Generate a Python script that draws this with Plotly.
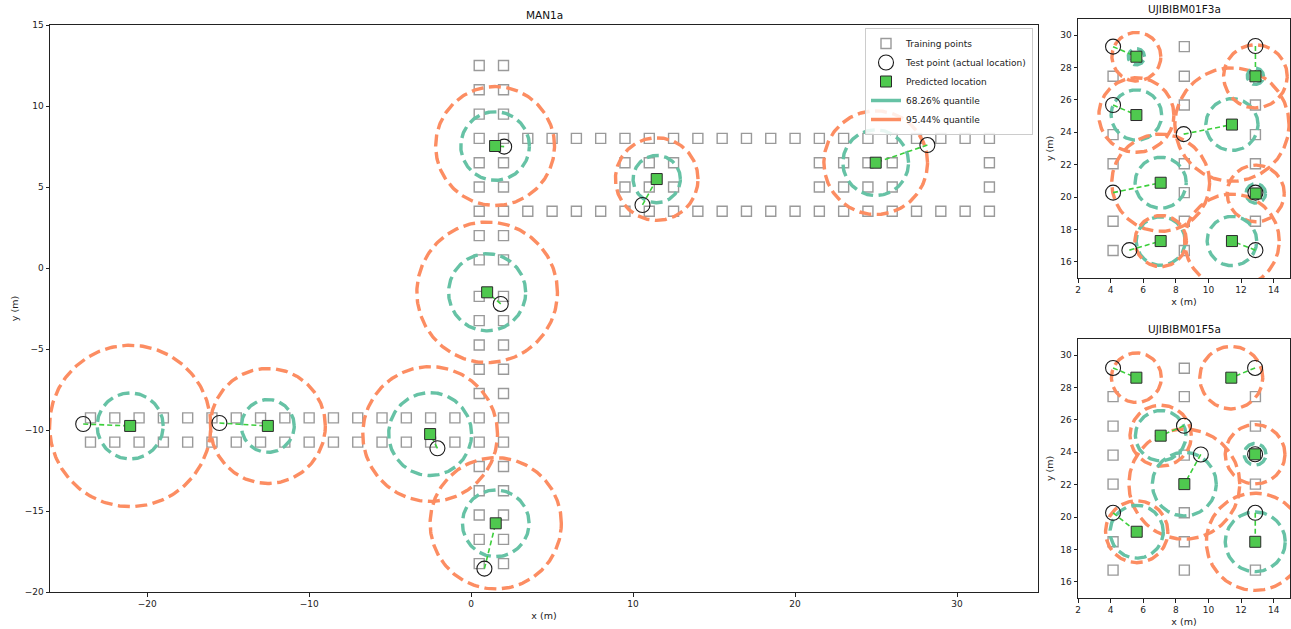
import numpy as np
import plotly.graph_objects as go

# ---------------- data ----------------
# MAN1a training grid
man_corr_x = [0.5, 2.0]
man_corr_y = [12.5, 11.0, 9.5, 8.0, 6.5, 5.0, 3.5, 2.0, 0.5, -1.75, -3.25, -4.75,
              -6.25, -7.75, -9.25, -10.75, -12.25, -13.75, -15.25, -16.75, -18.25]
man_left_x = [-23.5, -22.0, -20.5, -19.0, -17.5, -16.0, -14.5, -13.0, -11.5, -10.0,
              -8.5, -7.0, -5.5, -4.0, -2.5, -1.0]
man_left_y = [-9.25, -10.75]
man_top_x = [3.5, 5.0, 6.5, 8.0, 9.5, 11.0, 12.5, 14.0, 15.5, 17.0, 18.5, 20.0,
             21.5, 23.0, 24.5, 26.0, 27.5, 29.0, 30.5, 32.0]
man_top_y = [8.0, 3.5]
man_mid_x = [9.5, 11.0, 12.5, 21.5, 23.0, 24.5, 26.0, 32.0]
man_mid_y = [6.5, 5.0]

man_test_x = [-23.95, -15.54, -2.08, 0.82, 1.83, 2.04, 10.58, 28.17]
man_test_y = [-9.63, -9.57, -11.13, -18.56, -2.22, 7.49, 3.89, 7.59]
man_pred_x = [-21.05, -12.55, -2.53, 1.52, 0.99, 1.48, 11.46, 24.98]
man_pred_y = [-9.75, -9.75, -10.25, -15.76, -1.50, 7.53, 5.49, 6.50]
man_r68 = [2.04, 1.63, 2.56, 2.06, 2.38, 2.12, 1.46, 2.03]
man_r95 = [4.98, 3.55, 4.16, 4.05, 4.34, 3.67, 2.55, 3.20]

# UJIBIBM01F3a
f3_train_x = [4.15, 4.15, 4.15, 4.15, 4.15,
              8.52, 8.52, 8.52, 8.52, 8.52, 8.52, 8.52,
              12.88, 12.88, 12.88, 12.88]
f3_train_y = [27.45, 23.85, 22.05, 18.5, 16.7,
              29.28, 27.45, 25.68, 22.05, 20.27, 18.5, 16.7,
              25.68, 23.85, 22.05, 18.5]
f3_test_x = [4.15, 4.15, 8.48, 4.15, 12.88, 12.88, 5.15, 12.88]
f3_test_y = [29.28, 25.68, 23.88, 20.27, 29.32, 20.27, 16.72, 16.72]
f3_pred_x = [5.58, 5.58, 11.44, 7.07, 12.88, 12.9, 7.07, 11.44]
f3_pred_y = [28.66, 25.06, 24.47, 20.88, 27.45, 20.22, 17.28, 17.28]
f3_r68 = [0.5, 1.55, 1.6, 1.57, 0.5, 0.6, 1.5, 1.52]
f3_r95 = [1.5, 2.3, 3.5, 3.0, 1.95, 1.75, 1.58, 2.9]

# UJIBIBM01F5a
f5_train_x = [4.15, 4.15, 4.15, 4.15, 4.15, 4.15,
              8.52, 8.52, 8.52, 8.52, 8.52, 8.52,
              12.88, 12.88, 12.88, 12.88]
f5_train_y = [27.43, 25.61, 23.82, 22.03, 18.47, 16.72,
              29.18, 27.43, 23.82, 20.26, 18.47, 16.72,
              27.43, 25.61, 22.03, 16.72]
f5_test_x = [4.15, 12.86, 8.5, 9.53, 12.86, 4.15, 12.87]
f5_test_y = [29.2, 29.2, 25.63, 23.86, 23.87, 20.26, 20.26]
f5_pred_x = [5.58, 11.40, 7.07, 8.52, 12.86, 5.6, 12.87]
f5_pred_y = [28.6, 28.6, 25.02, 22.03, 23.87, 19.09, 18.47]
f5_r68 = [0.2, 0.2, 1.55, 1.96, 0.67, 1.63, 1.84]
f5_r95 = [1.53, 1.93, 1.88, 3.4, 1.83, 1.91, 3.0]

# ---------------- style ----------------
C68 = "#66c2a5"
C95 = "#fc8d62"
PRED = "#4fc94f"
LINK = "#3ccf3c"
TRAIN = "#9a9a9a"
FONT = "DejaVu Sans"
W, H = 1291, 629


def grid(xs, ys):
    gx, gy = np.meshgrid(xs, ys)
    return gx.ravel().tolist(), gy.ravel().tolist()


mx, my = [], []
for xs, ys in [(man_corr_x, man_corr_y), (man_left_x, man_left_y),
               (man_top_x, man_top_y), (man_mid_x, man_mid_y)]:
    a, b = grid(xs, ys)
    mx += a
    my += b

fig = go.Figure()
theta = np.linspace(0, 2 * np.pi, 241)


def add_panel(xa, ya, tx, ty, tyy, px, py, r68, r95, sq_size, legend):
    fig.add_trace(go.Scatter(x=tx, y=ty, mode="markers", xaxis=xa, yaxis=ya,
                             name="Training points", showlegend=legend, legendrank=1,
                             marker=dict(symbol="square-open", size=sq_size, color=TRAIN,
                                         line=dict(width=1.4, color=TRAIN))))
    for cx, cy, a, b in zip(px, py, r68, r95):
        for r, col in ((a, C68), (b, C95)):
            fig.add_trace(go.Scatter(x=cx + r * np.cos(theta), y=cy + r * np.sin(theta),
                                     mode="lines", xaxis=xa, yaxis=ya, showlegend=False,
                                     hoverinfo="skip",
                                     line=dict(color=col, width=3.4, dash="12px,5.5px")))
    lx, ly = [], []
    for a, b, c, d in zip(tyy[0], tyy[1], px, py):
        lx += [a, c, None]
        ly += [b, d, None]
    fig.add_trace(go.Scatter(x=lx, y=ly, mode="lines", xaxis=xa, yaxis=ya,
                             showlegend=False, hoverinfo="skip",
                             line=dict(color=LINK, width=1.6, dash="5px,3px")))
    fig.add_trace(go.Scatter(x=tyy[0], y=tyy[1], mode="markers", xaxis=xa, yaxis=ya,
                             name="Test point (actual location)", showlegend=legend,
                             legendrank=2,
                             marker=dict(symbol="circle-open", size=15, color="#1a1a1a",
                                         line=dict(width=1.1, color="#1a1a1a"))))
    fig.add_trace(go.Scatter(x=px, y=py, mode="markers", xaxis=xa, yaxis=ya,
                             name="Predicted location", showlegend=legend, legendrank=3,
                             marker=dict(symbol="square", size=11, color=PRED,
                                         line=dict(width=1, color="#2b2b2b"))))


add_panel("x", "y", mx, my, (man_test_x, man_test_y), man_pred_x, man_pred_y,
          man_r68, man_r95, 10, True)
add_panel("x2", "y2", f3_train_x, f3_train_y, (f3_test_x, f3_test_y), f3_pred_x, f3_pred_y,
          f3_r68, f3_r95, 10, False)
add_panel("x3", "y3", f5_train_x, f5_train_y, (f5_test_x, f5_test_y), f5_pred_x, f5_pred_y,
          f5_r68, f5_r95, 10, False)

fig.add_trace(go.Scatter(x=[None], y=[None], mode="lines", name="68.26% quantile",
                         legendrank=4, line=dict(color=C68, width=3.5)))
fig.add_trace(go.Scatter(x=[None], y=[None], mode="lines", name="95.44% quantile",
                         legendrank=5, line=dict(color=C95, width=3.5)))


def px2x(p):
    return p / W


def px2y(p):
    return 1 - p / H


def ax(rng, dom, dtick, title, anchor):
    return dict(range=rng, domain=dom, dtick=dtick, tick0=0,
                title=dict(text=title, font=dict(size=9.5), standoff=4),
                showline=True, mirror=True, linecolor="#222", linewidth=1,
                ticks="outside", ticklen=3.5, tickwidth=0.8, tickcolor="#222",
                showgrid=False, zeroline=False, automargin=False, anchor=anchor,
                tickfont=dict(size=9, color="#222"))


fig.update_layout(
    width=W, height=H, margin=dict(l=0, r=0, t=0, b=0),
    plot_bgcolor="white", paper_bgcolor="white",
    font=dict(family=FONT, color="#222"),
    xaxis=ax([-26, 35], [px2x(50), px2x(1038)], 10, "x (m)", "y"),
    yaxis=ax([-20, 15], [px2y(592), px2y(25)], 5, "y (m)", "x"),
    xaxis2=ax([2, 15], [px2x(1078), px2x(1290)], 2, "x (m)", "y2"),
    yaxis2=ax([15, 31], [px2y(278), px2y(18.8)], 2, "y (m)", "x2"),
    xaxis3=ax([2, 15], [px2x(1078), px2x(1290)], 2, "x (m)", "y3"),
    yaxis3=ax([15, 31], [px2y(598), px2y(338.8)], 2, "y (m)", "x3"),
    legend=dict(x=px2x(1033), y=px2y(28), xanchor="right", yanchor="top",
                bgcolor="rgba(255,255,255,0.85)", bordercolor="#cccccc", borderwidth=1,
                font=dict(size=9, family=FONT), tracegroupgap=0, itemwidth=30),
    showlegend=True,
)

for txt, xc, yc in [("MAN1a", (50 + 1038) / 2, 15), ("UJIBIBM01F3a", (1078 + 1290) / 2, 9),
                    ("UJIBIBM01F5a", (1078 + 1290) / 2, 329)]:
    fig.add_annotation(text=txt, x=px2x(xc), y=px2y(yc), xref="paper", yref="paper",
                       showarrow=False, xanchor="center", yanchor="middle",
                       font=dict(size=10.5, family=FONT, color="#111"))

fig.write_html(
    "out.html",
    config={"displayModeBar": False},
    post_script="document.body.style.margin='0';document.body.style.overflow='hidden';",
)
